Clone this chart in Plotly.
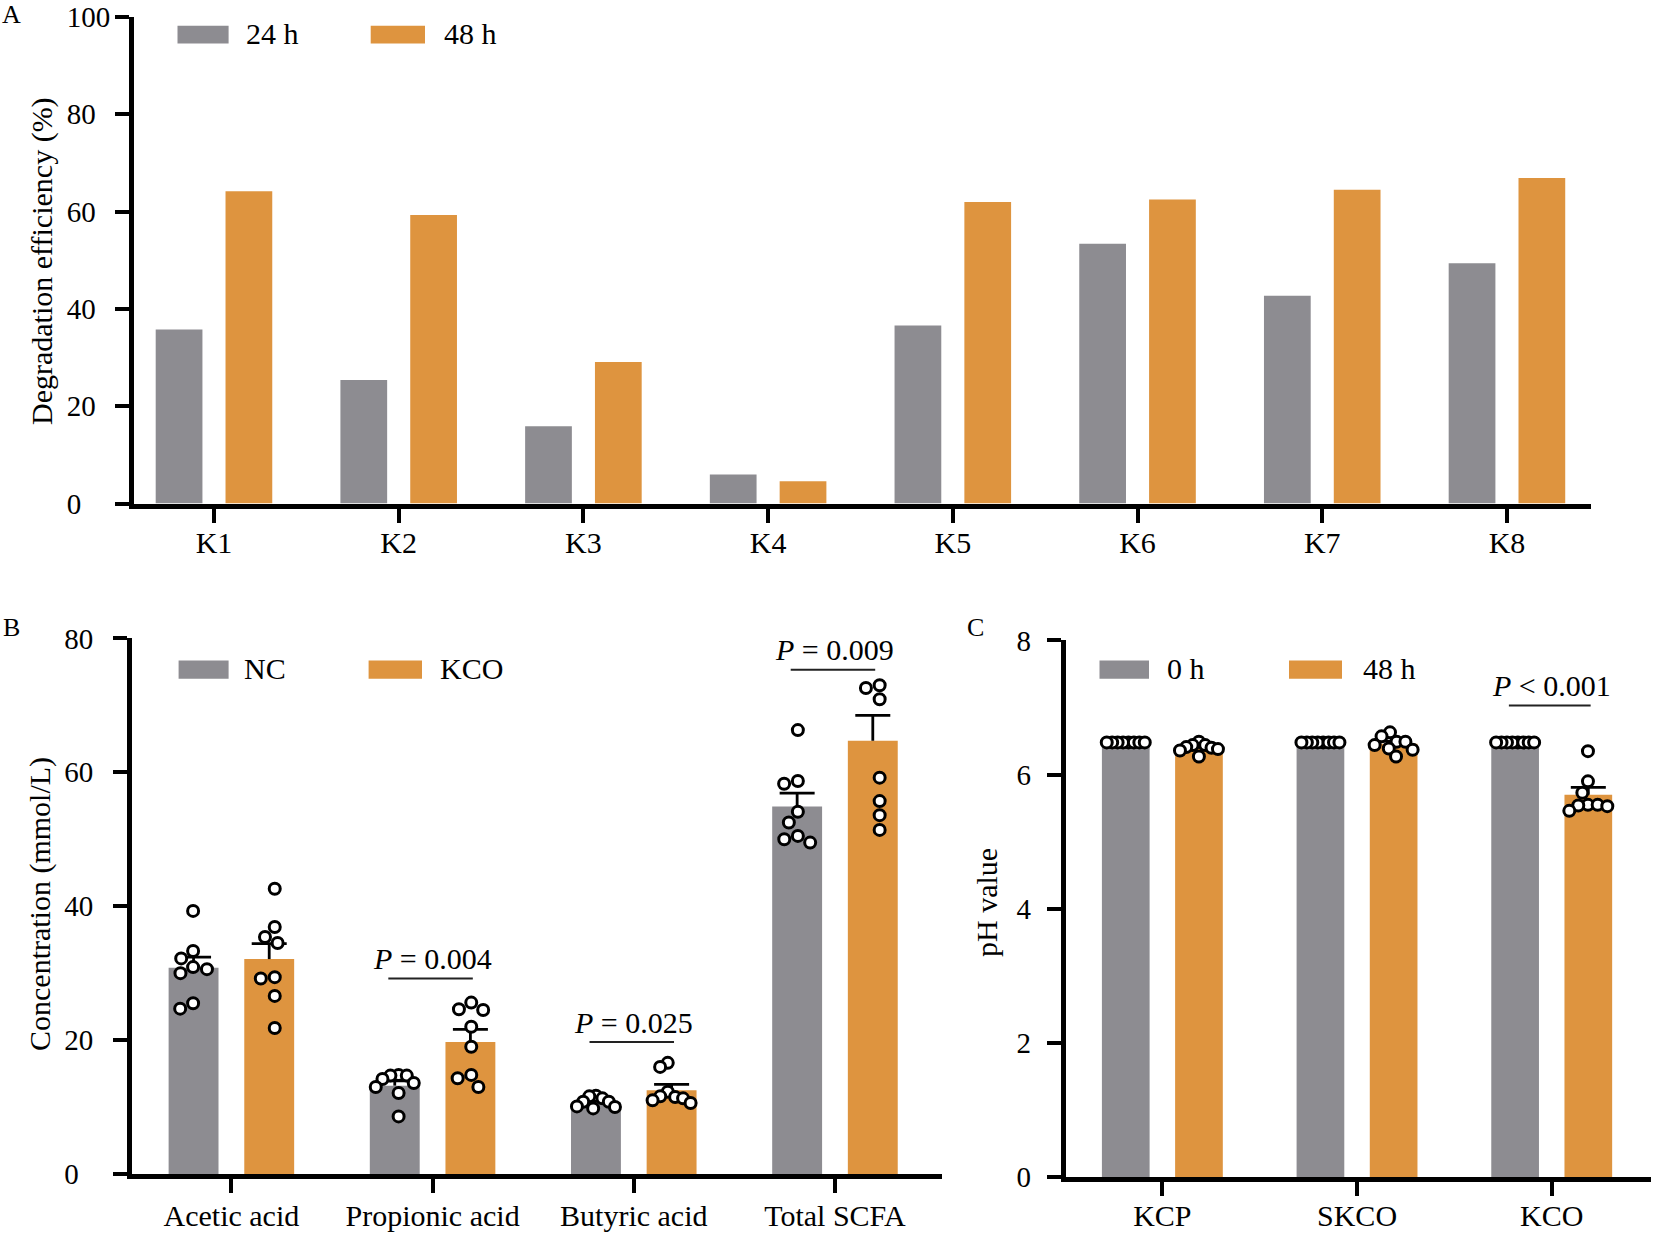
import math
import plotly.graph_objects as go

W, H = 1654, 1233
FONT = "Liberation Serif, Times New Roman, serif"
GRAY = "#8D8C91"
ORANGE = "#DE943F"

# ---------------- data ----------------
# Panel A
a_cats = ["K1", "K2", "K3", "K4", "K5", "K6", "K7", "K8"]
a_24h = [35.8, 25.4, 15.9, 6.0, 36.6, 53.4, 42.7, 49.4]
a_48h = [64.2, 59.3, 29.1, 4.6, 62.0, 62.5, 64.5, 66.9]
a_yticks = [0, 20, 40, 60, 80, 100]

# Panel B
b_cats = ["Acetic acid", "Propionic acid", "Butyric acid", "Total SCFA"]
b_nc_mean = [30.8, 13.2, 10.7, 54.9]
b_nc_sem = [1.6, 0.7, 0.3, 2.0]
b_kco_mean = [32.1, 19.7, 12.5, 64.7]
b_kco_sem = [2.3, 1.9, 0.9, 3.8]
b_nc_points = [
    [39.3, 33.3, 32.2, 30.9, 30.6, 30.0, 25.5, 24.7],
    [14.8, 14.7, 14.7, 14.2, 13.6, 13.0, 12.1, 8.6],
    [11.7, 11.6, 11.3, 10.8, 10.8, 10.1, 10.0, 9.8],
    [66.3, 58.7, 58.3, 54.1, 52.5, 50.5, 50.0, 49.5],
]
b_kco_points = [
    [42.6, 36.9, 35.4, 34.5, 29.4, 29.2, 26.6, 21.8],
    [25.6, 24.6, 24.5, 22.0, 19.0, 14.8, 14.3, 13.0],
    [16.6, 16.0, 12.3, 11.6, 11.5, 11.3, 11.0, 10.6],
    [73.0, 72.6, 70.9, 59.2, 55.7, 53.6, 51.4],
]
b_sig_text = [None, "<i>P</i> = 0.004", "<i>P</i> = 0.025", "<i>P</i> = 0.009"]
b_sig_y = [None, 29.2, 19.7, 75.3]
b_yticks = [0, 20, 40, 60, 80]

# Panel C
c_cats = ["KCP", "SKCO", "KCO"]
c_0h_mean = [6.48, 6.48, 6.48]
c_0h_sem = [0.0, 0.0, 0.0]
c_48h_mean = [6.40, 6.46, 5.70]
c_48h_sem = [0.025, 0.04, 0.11]
c_0h_points = [
    [6.48, 6.48, 6.48, 6.48, 6.48, 6.48, 6.48, 6.48],
    [6.48, 6.48, 6.48, 6.48, 6.48, 6.48, 6.48, 6.48],
    [6.48, 6.48, 6.48, 6.48, 6.48, 6.48, 6.48, 6.48],
]
c_48h_points = [
    [6.49, 6.44, 6.44, 6.41, 6.40, 6.38, 6.36, 6.27],
    [6.63, 6.57, 6.49, 6.49, 6.44, 6.39, 6.37, 6.27],
    [6.35, 5.90, 5.73, 5.55, 5.55, 5.54, 5.53, 5.46],
]
c_sig_text = [None, None, "<i>P</i> &lt; 0.001"]
c_sig_y = [None, None, 7.03]
c_yticks = [0, 2, 4, 6, 8]

# ---------------- layout geometry (pixels) ----------------
def px_x(p):
    return p / W

def px_y(p):
    return 1 - p / H

panels = {
    "A": dict(x0=134, x1=1591, y0=17.0, y1=503.6, xr=[-0.433, 7.455], yr=[0, 100]),
    "B": dict(x0=132, x1=942, y0=638.4, y1=1174, xr=[-0.494, 3.532], yr=[0, 80]),
    "C": dict(x0=1065.8, x1=1651, y0=640.4, y1=1177.3, xr=[-0.496, 2.51], yr=[0, 8]),
}
for p in panels.values():
    p["xs"] = (p["x1"] - p["x0"]) / (p["xr"][1] - p["xr"][0])  # px per x unit
    p["ys"] = (p["y1"] - p["y0"]) / (p["yr"][1] - p["yr"][0])  # px per y unit

BAR_OFF = 0.188
MARK_D = 14.0


def swarm(vals, yscale, d=MARK_D, limit=19.0):
    n = len(vals)
    order = sorted(range(n), key=lambda i: -vals[i])
    placed = []
    xs = [0.0] * n
    for i in order:
        y = vals[i] * yscale
        cands = [0.0]
        for (qx, qy) in placed:
            dy = abs(y - qy)
            if dy < d:
                dx = math.sqrt(d * d - dy * dy)
                cands += [qx + dx, qx - dx]
        cands.sort(key=lambda c: (abs(c), c))
        for c in cands:
            if all((c - qx) ** 2 + (y - qy) ** 2 >= d * d - 1e-6 for qx, qy in placed):
                xs[i] = c
                break
        placed.append((xs[i], y))
    shift = (max(xs) + min(xs)) / 2
    xs = [x - shift for x in xs]
    m = max(abs(x) for x in xs)
    if m > limit:
        xs = [x * limit / m for x in xs]
    return xs


fig = go.Figure()


def add_bars(xa, ya, vals, color, offset, width):
    fig.add_trace(go.Bar(
        x=list(range(len(vals))), y=vals, width=width, offset=offset,
        marker=dict(color=color, line=dict(width=0)),
        xaxis=xa, yaxis=ya, showlegend=False, hoverinfo="skip"))


def add_err(xa, ya, means, sems, shift):
    xs, ys, ss = [], [], []
    for i, (m, s) in enumerate(zip(means, sems)):
        if s > 0:
            xs.append(i + shift)
            ys.append(m + s)
            ss.append(s)
    if not xs:
        return
    fig.add_trace(go.Scatter(
        x=xs, y=ys, mode="markers",
        marker=dict(symbol="line-ew", size=25, color="black",
                    line=dict(color="black", width=2.8)),
        error_y=dict(type="data", symmetric=False, array=[0] * len(ss),
                     arrayminus=ss, width=0, thickness=2.8, color="black"),
        xaxis=xa, yaxis=ya, showlegend=False, hoverinfo="skip"))


def add_points(xa, ya, groups, shift, pan):
    xs, ys = [], []
    for i, vals in enumerate(groups):
        offs = swarm(vals, pan["ys"])
        for v, o in zip(vals, offs):
            xs.append(i + shift + o / pan["xs"])
            ys.append(v)
    fig.add_trace(go.Scatter(
        x=xs, y=ys, mode="markers",
        marker=dict(symbol="circle", size=11, color="white",
                    line=dict(color="black", width=3)),
        xaxis=xa, yaxis=ya, showlegend=False, hoverinfo="skip"))


# Panel A bars
add_bars("x", "y", a_24h, GRAY, -0.189 - 0.1265, 0.253)
add_bars("x", "y", a_48h, ORANGE, 0.189 - 0.1265, 0.253)

# Panel B
pB = panels["B"]
add_bars("x2", "y2", b_nc_mean, GRAY, -BAR_OFF - 0.124, 0.248)
add_bars("x2", "y2", b_kco_mean, ORANGE, BAR_OFF - 0.124, 0.248)
add_err("x2", "y2", b_nc_mean, b_nc_sem, -BAR_OFF)
add_err("x2", "y2", b_kco_mean, b_kco_sem, BAR_OFF)
add_points("x2", "y2", b_nc_points, -BAR_OFF, pB)
add_points("x2", "y2", b_kco_points, BAR_OFF, pB)

# Panel C
pC = panels["C"]
add_bars("x3", "y3", c_0h_mean, GRAY, -BAR_OFF - 0.1225, 0.245)
add_bars("x3", "y3", c_48h_mean, ORANGE, BAR_OFF - 0.1225, 0.245)
add_err("x3", "y3", c_0h_mean, c_0h_sem, -BAR_OFF)
add_err("x3", "y3", c_48h_mean, c_48h_sem, BAR_OFF)
add_points("x3", "y3", c_0h_points, -BAR_OFF, pC)
add_points("x3", "y3", c_48h_points, BAR_OFF, pC)


def pad_labels(ticks):
    labels = [str(t) for t in ticks]
    mx = max(len(s) for s in labels)
    return [s + "\u00a0" * (2 * (mx - len(s))) for s in labels]


def xaxis_cfg(p, cats, standoff):
    return dict(
        domain=[px_x(p["x0"]), px_x(p["x1"])], range=p["xr"],
        tickvals=list(range(len(cats))), ticktext=cats,
        showline=True, linewidth=5, linecolor="black",
        ticks="outside", ticklen=14, tickwidth=4, tickcolor="black",
        showgrid=False, zeroline=False, fixedrange=True, automargin=False,
        ticklabeloverflow="allow",
        tickfont=dict(family=FONT, size=30, color="black"),
        ticklabelstandoff=standoff)


def yaxis_cfg(p, ticks, standoff):
    return dict(
        domain=[px_y(p["y1"]), px_y(p["y0"])], range=p["yr"],
        tickvals=ticks, ticktext=pad_labels(ticks),
        showline=True, linewidth=5, linecolor="black",
        ticks="outside", ticklen=14, tickwidth=4, tickcolor="black",
        showgrid=False, zeroline=False, fixedrange=True, automargin=False,
        ticklabeloverflow="allow",
        tickfont=dict(family=FONT, size=29, color="black"),
        ticklabelstandoff=standoff)


pA = panels["A"]
fig.update_layout(
    width=W, height=H, autosize=False,
    margin=dict(l=0, r=0, t=0, b=0, pad=0, autoexpand=False),
    paper_bgcolor="white", plot_bgcolor="white",
    barmode="overlay", showlegend=False,
    font=dict(family=FONT, color="black"),
    xaxis=dict(xaxis_cfg(pA, a_cats, -6), anchor="y"),
    yaxis=dict(yaxis_cfg(pA, a_yticks, -1), anchor="x"),
    xaxis2=dict(xaxis_cfg(pB, b_cats, -3), anchor="y2"),
    yaxis2=dict(yaxis_cfg(pB, b_yticks, 14), anchor="x2"),
    xaxis3=dict(xaxis_cfg(pC, c_cats, -6), anchor="y3"),
    yaxis3=dict(yaxis_cfg(pC, c_yticks, 10), anchor="x3"),
)

shapes = []
annots = []


def txt(x, y, text, size=30, xanchor="center", angle=0, xref="paper", yref="paper", yshift=0):
    annots.append(dict(x=x, y=y, xref=xref, yref=yref, text=text, showarrow=False,
                       xanchor=xanchor, yanchor="middle", textangle=angle, yshift=yshift,
                       font=dict(family=FONT, size=size, color="black")))


# Panel letters
txt(px_x(11), px_y(15), "A", size=26)
txt(px_x(11), px_y(627), "B", size=26)
txt(px_x(975), px_y(627), "C", size=26)

# Y titles
txt(px_x(42), px_y(261), "Degradation efficiency (%)", angle=-90)
txt(px_x(40), px_y(904), "Concentration (mmol/L)", angle=-90)
txt(px_x(986), px_y(903), "pH value", angle=-90)

# Legends (swatch rectangles + labels)
legends = [
    (25.7, 43.6, [(177.5, 228.6, GRAY, 244, "24 h"), (370.7, 425, ORANGE, 441.8, "48 h")]),
    (660.5, 678.7, [(178.6, 228.6, GRAY, 242, "NC"), (368.6, 422, ORANGE, 437.5, "KCO")]),
    (660.5, 678.7, [(1099.5, 1149, GRAY, 1164.6, "0 h"), (1289, 1342, ORANGE, 1361, "48 h")]),
]
for (ya0, ya1, items) in legends:
    for (xa0, xa1, col, tx, label) in items:
        shapes.append(dict(type="rect", xref="paper", yref="paper",
                           x0=px_x(xa0), x1=px_x(xa1), y0=px_y(ya1), y1=px_y(ya0),
                           fillcolor=col, line=dict(width=0)))
        txt(px_x(tx), px_y((ya0 + ya1) / 2 - 1), label, xanchor="left")

# Significance annotations
for (xa, ya, texts, ys) in [("x2", "y2", b_sig_text, b_sig_y), ("x3", "y3", c_sig_text, c_sig_y)]:
    for i, (t, yv) in enumerate(zip(texts, ys)):
        if t is None:
            continue
        shapes.append(dict(type="line", xref=xa, yref=ya, x0=i - 0.22, x1=i + 0.2,
                           y0=yv, y1=yv, line=dict(color="#222222", width=2)))
        txt(i, yv, t, xref=xa, yref=ya, yshift=20)

fig.update_layout(shapes=shapes, annotations=annots)
fig.write_html("out.html",
               config={"displayModeBar": False, "staticPlot": True},
               post_script="document.body.style.margin='0';document.body.style.padding='0';")
